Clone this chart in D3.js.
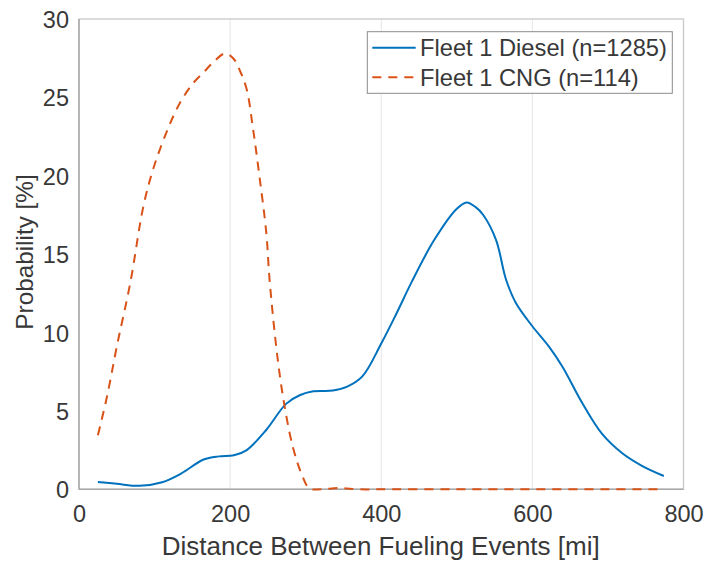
<!DOCTYPE html>
<html><head><meta charset="utf-8">
<script src="https://cdn.jsdelivr.net/npm/d3@7"></script>
<style>body{margin:0;background:#fff;} text{font-family:"Liberation Sans",Arial,sans-serif;fill:#383838;}</style>
</head><body><svg id="c" width="706" height="561"></svg>
<script>
const dieselX = [25,50,80,110,135,165,185,205,222,248,274,292,310,336,355,375,400,420,440,470,500,513,525,535,552,565,578,600,622,640,666,692,719,745,774];
const dieselY = [0.47,0.35,0.22,0.45,1.0,1.9,2.1,2.17,2.5,3.8,5.45,6.0,6.25,6.3,6.55,7.2,9.3,11.2,13.2,15.9,17.9,18.3,18.0,17.5,15.9,13.4,11.9,10.4,9.1,7.8,5.5,3.55,2.3,1.5,0.85];
const cngX = [25,37,50,68,85,98,116,133,151,165,177,193,204,213,222,230,239,248,252,261,270,283,296,305,320,345,370,400,500,600,700,774];
const cngY = [3.45,5.9,9.1,13.2,18.0,20.4,22.8,24.6,25.9,26.6,27.2,27.8,27.5,26.7,25.5,23.1,19.9,16.3,13.5,9.1,5.9,2.7,0.8,0.05,0,0.08,0,0,0,0,0,0];
const xTicks = [0,200,400,600,800];
const yTicks = [0,5,10,15,20,25,30];
const seriesNames = ["Fleet 1 Diesel (n=1285)","Fleet 1 CNG (n=114)"];

const svg = d3.select("#c");
const L=79, R=683.5, T=19, B=489.3;
const x = d3.scaleLinear().domain([0,800]).range([L,R]);
const y = d3.scaleLinear().domain([0,30]).range([B,T]);

// vertical grid
svg.append("g").selectAll("line").data(xTicks.slice(1,-1)).join("line")
  .attr("x1",d=>x(d)).attr("x2",d=>x(d)).attr("y1",T).attr("y2",B)
  .attr("stroke","#e6e6e6").attr("stroke-width",1);

// box
svg.append("rect").attr("x",L).attr("y",T).attr("width",R-L).attr("height",B-T)
  .attr("fill","none").attr("stroke","#c8c8c8").attr("stroke-width",1.3);
svg.append("line").attr("x1",L).attr("x2",L).attr("y1",T).attr("y2",B).attr("stroke","#a8a8a8").attr("stroke-width",1.5);
svg.append("line").attr("x1",L).attr("x2",R).attr("y1",B).attr("y2",B).attr("stroke","#a8a8a8").attr("stroke-width",1.5);

// axes (labels only)
const xa = svg.append("g").attr("transform",`translate(0,${B})`)
  .call(d3.axisBottom(x).tickValues(xTicks).tickSize(0).tickPadding(0));
xa.select(".domain").remove();
xa.selectAll("text").attr("font-size",23.5).attr("fill","#383838").attr("dy",null).attr("y",33)
  .style("font-family","Liberation Sans, Arial");
const ya = svg.append("g").attr("transform",`translate(${L},0)`)
  .call(d3.axisLeft(y).tickValues(yTicks).tickSize(0).tickPadding(10));
ya.select(".domain").remove();
ya.selectAll("text").attr("font-size",23.5).attr("fill","#383838").attr("dy","0.36em")
  .style("font-family","Liberation Sans, Arial");

// axis titles
svg.append("text").attr("x",(L+R)/2 - 0.5).attr("y",555).attr("text-anchor","middle")
  .attr("font-size",26).text("Distance Between Fueling Events [mi]");
svg.append("text").attr("transform",`translate(33,252) rotate(-90)`).attr("text-anchor","middle")
  .attr("font-size",24.3).text("Probability [%]");

const line = d3.line().x(d=>x(d[0])).y(d=>y(d[1])).curve(d3.curveCatmullRom.alpha(0.5));
const colors = ["#0072BD","#D95319"];
svg.append("path").datum(d3.zip(dieselX,dieselY)).attr("d",line)
  .attr("fill","none").attr("stroke",colors[0]).attr("stroke-width",2);
svg.append("path").datum(d3.zip(cngX,cngY)).attr("d",line)
  .attr("fill","none").attr("stroke",colors[1]).attr("stroke-width",2).attr("stroke-dasharray","9,7");

// legend
const lg = svg.append("g");
lg.append("rect").attr("x",367.3).attr("y",31.7).attr("width",305).attr("height",61.6)
  .attr("fill","#fff").attr("stroke","#8a8a8a").attr("stroke-width",1);
seriesNames.forEach((n,i)=>{
  const yy = 47.7 + i*29.6;
  lg.append("line").attr("x1",372.3).attr("x2",415.7).attr("y1",yy).attr("y2",yy)
    .attr("stroke",colors[i]).attr("stroke-width",2).attr("stroke-dasharray", i? "9,7":null);
  lg.append("text").attr("x",420).attr("y",yy+8.5).attr("font-size",23.7).text(n);
});
</script></body></html>
